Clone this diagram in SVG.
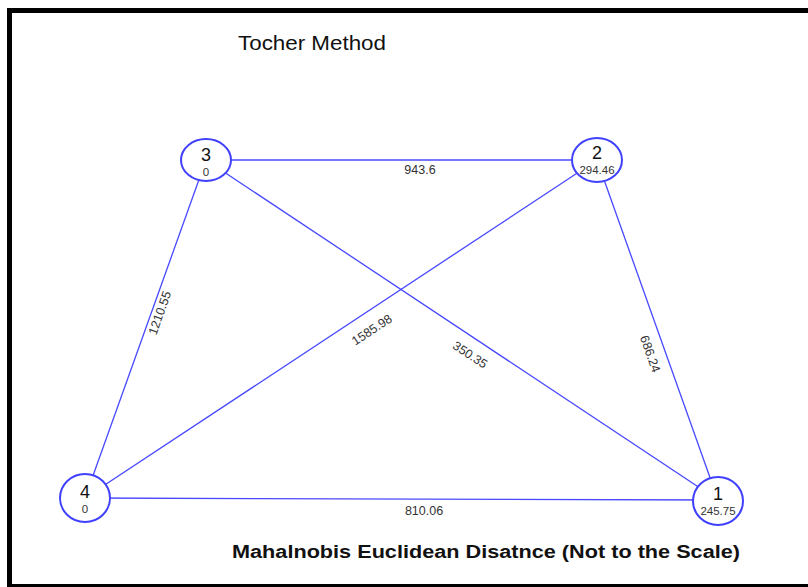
<svg xmlns="http://www.w3.org/2000/svg" width="808" height="587" viewBox="0 0 808 587">
<style>
.edge{stroke:#4848ff;stroke-width:1.3;fill:none}
.node{fill:#fff;stroke:#4040ff;stroke-width:2}
.nl{font-family:"Liberation Sans",Arial,sans-serif;font-size:18px;fill:#111;text-anchor:middle}
.sl{font-family:"Liberation Sans",Arial,sans-serif;font-size:11.5px;fill:#333;text-anchor:middle}
.el{font-family:"Liberation Sans",Arial,sans-serif;font-size:12.5px;fill:#333;text-anchor:middle}
</style>
<rect x="0" y="0" width="808" height="587" fill="#fff"/>
<path d="M9.5 589 V10.5 H812" fill="none" stroke="#000" stroke-width="5"/>
<line x1="7" y1="585.5" x2="808" y2="585.5" stroke="#000" stroke-width="3"/>
<text x="312" y="50" font-family="Liberation Sans,Arial,sans-serif" font-size="20" fill="#111" text-anchor="middle" textLength="148" lengthAdjust="spacingAndGlyphs">Tocher Method</text>
<text x="486" y="558" font-family="Liberation Sans,Arial,sans-serif" font-size="18" font-weight="bold" fill="#111" text-anchor="middle" textLength="508" lengthAdjust="spacingAndGlyphs">Mahalnobis Euclidean Disatnce (Not to the Scale)</text>
<g id="connectors">
<line class="edge" x1="206" y1="160" x2="597" y2="160"/>
<line class="edge" x1="206" y1="160" x2="85" y2="498"/>
<line class="edge" x1="206" y1="160" x2="718" y2="500"/>
<line class="edge" x1="597" y1="160" x2="85" y2="498"/>
<line class="edge" x1="597" y1="160" x2="718" y2="500"/>
<line class="edge" x1="85" y1="498" x2="718" y2="500"/>
<text class="el" x="420" y="174">943.6</text>
<text class="el" x="424" y="515">810.06</text>
<text class="el" transform="translate(160,313) rotate(-70.5)" dy="4">1210.55</text>
<text class="el" transform="translate(372,330) rotate(-33.4)" dy="4">1585.98</text>
<text class="el" transform="translate(470,355) rotate(33.5)" dy="4">350.35</text>
<text class="el" transform="translate(650,354) rotate(70.4)" dy="4">686.24</text>
</g>
<g id="node3">
<ellipse class="node" cx="206" cy="160" rx="25" ry="21"/>
<text class="nl" x="206" y="161">3</text>
<text class="sl" x="206" y="176">0</text>
</g>
<g id="node2">
<ellipse class="node" cx="597" cy="160" rx="25" ry="22"/>
<text class="nl" x="597" y="159">2</text>
<text class="sl" x="597" y="174">294.46</text>
</g>
<g id="node4">
<ellipse class="node" cx="85" cy="498" rx="25" ry="24"/>
<text class="nl" x="85" y="498">4</text>
<text class="sl" x="85" y="513">0</text>
</g>
<g id="node1">
<ellipse class="node" cx="718" cy="501" rx="25" ry="24"/>
<text class="nl" x="718" y="500">1</text>
<text class="sl" x="718" y="515">245.75</text>
</g>
</svg>
